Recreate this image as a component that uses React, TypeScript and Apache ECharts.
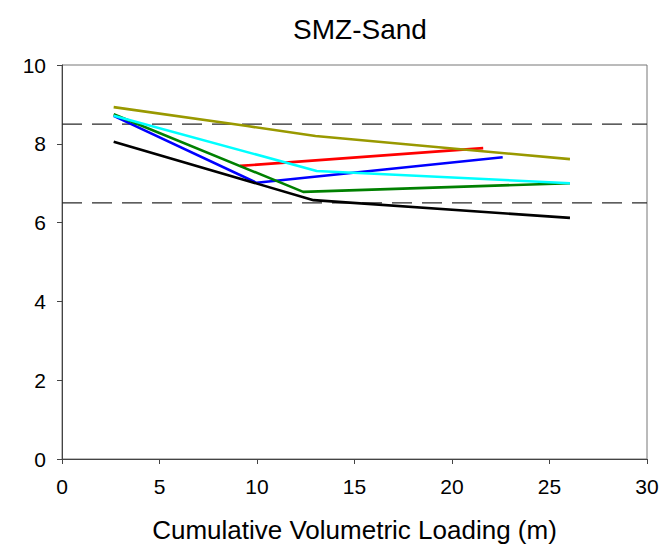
import React, { useEffect, useRef } from "react";
import * as echarts from "echarts";

const titleText = "SMZ-Sand";
const xAxisName = "Cumulative Volumetric Loading (m)";

const oliveX = [2.65, 9.5, 13.0, 26.05];
const oliveY = [8.93, 8.45, 8.2, 7.61];
const redX = [9.13, 21.6];
const redY = [7.44, 7.89];
const blueX = [2.65, 9.98, 22.6];
const blueY = [8.71, 7.01, 7.66];
const greenX = [2.65, 12.37, 26.05];
const greenY = [8.75, 6.78, 7.0];
const cyanX = [2.65, 13.06, 26.05];
const cyanY = [8.71, 7.31, 7.0];
const blackX = [2.65, 12.9, 26.05];
const blackY = [8.05, 6.57, 6.12];

const limitX = [0, 30];
const upperLimit = [8.5, 8.5];
const lowerLimit = [6.5, 6.5];

const pairs = (xs: number[], ys: number[]) => xs.map((x, i) => [x, ys[i]]);

const FONT = "'Liberation Sans', Arial, sans-serif";

export default function App() {
  const ref = useRef<HTMLDivElement>(null);
  useEffect(() => {
    if (!ref.current) return;
    const chart = echarts.init(ref.current, null, { renderer: "svg" });
    const line = (name: string, xs: number[], ys: number[], color: string, z: number) => ({
      name,
      type: "line",
      data: pairs(xs, ys),
      showSymbol: false,
      symbol: "none",
      z,
      lineStyle: { color, width: 2.6 },
    });
    const dashed = (name: string, ys: number[]) => ({
      name,
      type: "line",
      data: pairs(limitX, ys),
      showSymbol: false,
      symbol: "none",
      z: 1,
      lineStyle: { color: "#2a2a2a", width: 1.2, type: [20, 10] },
    });
    chart.setOption({
      animation: false,
      backgroundColor: "#fff",
      title: {
        text: titleText,
        left: 355,
        textAlign: "center",
        top: 10,
        textStyle: { fontFamily: FONT, fontSize: 28, fontWeight: "normal", color: "#000" },
      },
      grid: {
        left: 62,
        top: 65,
        right: 24,
        bottom: 97,
        show: true,
        borderColor: "#777",
        borderWidth: 1,
      },
      xAxis: {
        type: "value",
        min: 0,
        max: 30,
        interval: 5,
        name: xAxisName,
        nameLocation: "middle",
        nameGap: 58,
        nameTextStyle: { fontFamily: FONT, fontSize: 26, color: "#000" },
        axisLine: { show: true, lineStyle: { color: "#444", width: 1 } },
        axisTick: { show: true, inside: false, length: 5, lineStyle: { color: "#444" } },
        axisLabel: { margin: 17, fontFamily: FONT, fontSize: 21, color: "#000" },
        splitLine: { show: false },
      },
      yAxis: {
        type: "value",
        min: 0,
        max: 10,
        interval: 2,
        axisLine: { show: true, lineStyle: { color: "#444", width: 1 } },
        axisTick: { show: true, inside: false, length: 5, lineStyle: { color: "#444" } },
        axisLabel: { margin: 16, fontFamily: FONT, fontSize: 21, color: "#000" },
        splitLine: { show: false },
      },
      series: [
        dashed("Upper", upperLimit),
        dashed("Lower", lowerLimit),
        line("Red", redX, redY, "#ff0000", 2),
        line("Blue", blueX, blueY, "#0000ff", 3),
        line("Green", greenX, greenY, "#008000", 4),
        line("Cyan", cyanX, cyanY, "#00ffff", 5),
        line("Olive", oliveX, oliveY, "#999900", 6),
        line("Black", blackX, blackY, "#000000", 7),
      ],
    });
    return () => chart.dispose();
  }, []);
  return <div ref={ref} style={{ width: 671, height: 556, position: "absolute", left: 0, top: 0 }} />;
}
